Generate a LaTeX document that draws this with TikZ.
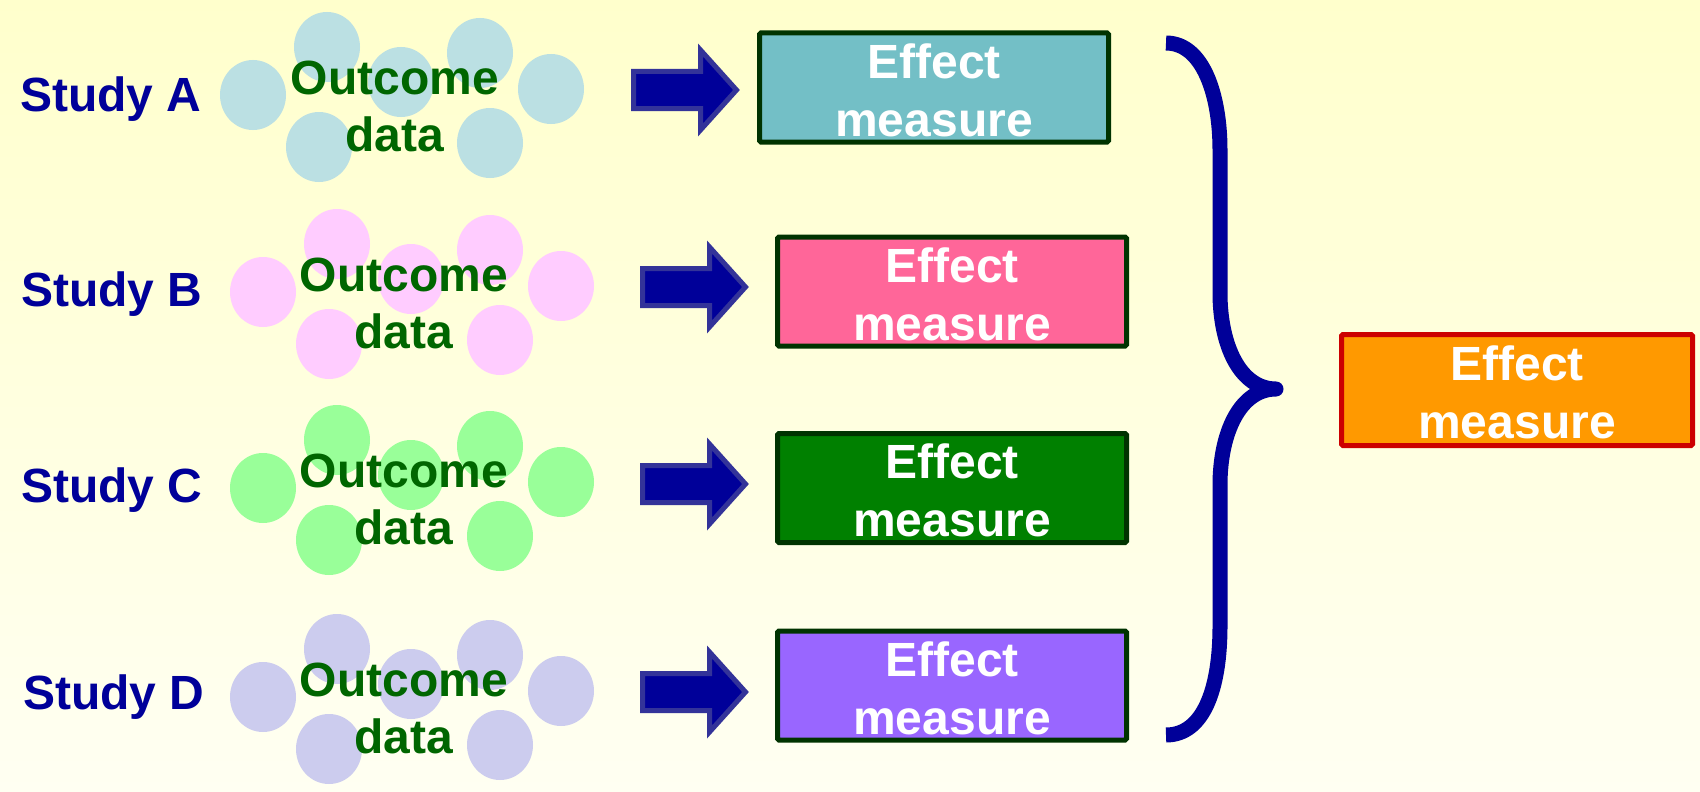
\documentclass[tikz,border=0pt]{standalone}
\usepackage{fontspec}
\setmainfont{Liberation Sans}
\usetikzlibrary{calc}
\definecolor{bgtop}{HTML}{FFFFCC}
\definecolor{bgbot}{HTML}{FFFFF2}
\definecolor{studyblue}{HTML}{000099}
\definecolor{outgreen}{HTML}{006600}
\definecolor{arrowfill}{HTML}{000099}
\definecolor{arrowline}{HTML}{333399}
\definecolor{boxline}{HTML}{003300}
\definecolor{circA}{HTML}{BBE0E3}
\definecolor{circB}{HTML}{FFCCFF}
\definecolor{circC}{HTML}{99FF99}
\definecolor{circD}{HTML}{CCCCEE}
\definecolor{boxA}{HTML}{73BFC6}
\definecolor{boxB}{HTML}{FF6699}
\definecolor{boxC}{HTML}{008000}
\definecolor{boxD}{HTML}{9966FF}
\definecolor{boxF}{HTML}{FF9900}
\definecolor{boxFline}{HTML}{CC0000}
\newcommand\myfont{\fontsize{48}{57}\selectfont\bfseries}
\newcommand\myboxfont{\fontsize{48}{58}\selectfont\bfseries}
\tikzset{
  studylbl/.style={text=studyblue, font=\myfont, anchor=base west, inner sep=0pt},
  outlbl/.style={text=outgreen, font=\myfont, align=center, inner sep=0pt},
  effbox/.style={draw=boxline, line width=5pt, minimum width=349pt, minimum height=109pt,
    inner sep=0pt, rounded corners=1.5pt},
  efftext/.style={text=white, align=center, font=\myboxfont, inner sep=0pt},
  finalbox/.style={effbox, draw=boxFline, fill=boxF, minimum width=351pt, minimum height=111pt},
  blkarrow/.style={fill=arrowfill, draw=arrowline, line width=5pt, line join=miter},
  bracestyle/.style={draw=studyblue, line width=15pt, line join=round, line cap=butt},
  pics/cluster/.style={code={
    \fill[#1] (0,0) ellipse [x radius=33, y radius=35];
    \fill[#1] (74,-48) ellipse [x radius=33, y radius=35];
    \fill[#1] (148,-13) ellipse [x radius=33, y radius=35];
    \fill[#1] (227,-42) ellipse [x radius=33, y radius=35];
    \fill[#1] (298,-6) ellipse [x radius=33, y radius=35];
    \fill[#1] (66,52) ellipse [x radius=33, y radius=35];
    \fill[#1] (237,48) ellipse [x radius=33, y radius=35];
  }},
  pics/blockarrow/.style={code={
    \draw[blkarrow] (-106.5,-18.5) -- (-39.5,-18.5) -- (-39.5,-40) -- (-3.5,0)
      -- (-39.5,40) -- (-39.5,18.5) -- (-106.5,18.5) -- cycle;
  }}
}
\begin{document}
\begin{tikzpicture}[x=1pt,y=-1pt]
\useasboundingbox (0,0) rectangle (1700,792);
\shade[top color=bgtop, bottom color=bgbot] (0,0) rectangle (1700,792);

% clusters of circles
\pic at (253,95) {cluster=circA};
\pic at (263,292) {cluster=circB};
\pic at (263,488) {cluster=circC};
\pic at (263,697) {cluster=circD};

% study labels
\node[studylbl] (sa) at (20,111) {Study A};
\node[studylbl] (sb) at (21,306) {Study B};
\node[studylbl] (sc) at (21,502) {Study C};
\node[studylbl] (sd) at (23,709) {Study D};

% outcome labels
\node[outlbl] (oa) at (395,106.5) {Outcome\\data};
\node[outlbl] (ob) at (404,303.5) {Outcome\\data};
\node[outlbl] (oc) at (404,499.5) {Outcome\\data};
\node[outlbl] (od) at (404,708.5) {Outcome\\data};

% block arrows
\pic at (740,90) {blockarrow};
\pic at (749,287) {blockarrow};
\pic at (749,484) {blockarrow};
\pic at (749,692) {blockarrow};

% effect boxes
\node[effbox, fill=boxA] (ea) at (934,87.5) {};
\node[effbox, fill=boxB] (eb) at (952,291.5) {};
\node[effbox, fill=boxC] (ec) at (952,488) {};
\node[effbox, fill=boxD] (ed) at (952,685.5) {};
\node[efftext] (eat) at ($(ea.center)+(0,2.5)$) {Effect\\measure};
\node[efftext] (ebt) at ($(eb.center)+(0,2.5)$) {Effect\\measure};
\node[efftext] (ect) at ($(ec.center)+(0,2.5)$) {Effect\\measure};
\node[efftext] (edt) at ($(ed.center)+(0,2.5)$) {Effect\\measure};

% brace
\coordinate (bt) at (1166,43);
\coordinate (tip) at (1276,389);
\coordinate (bb) at (1166,735);
\draw[bracestyle] (bt) .. controls (1203,43) and (1220,95) .. (1220,150)
  -- (1220,293) .. controls (1220,345) and (1240,389) .. (tip)
  .. controls (1240,389) and (1220,433) .. (1220,485)
  -- (1220,626) .. controls (1220,690) and (1203,735) .. (bb);

% final box
\node[finalbox] (ef) at (1517,390) {};
\node[efftext] (eft) at ($(ef.center)+(0,2.5)$) {Effect\\measure};
\end{tikzpicture}
\end{document}
